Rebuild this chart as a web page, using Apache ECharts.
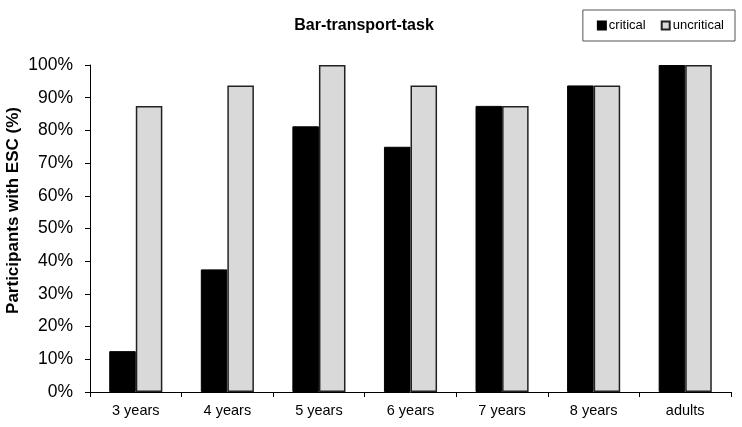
<!DOCTYPE html>
<html><head><meta charset="utf-8">
<script src="https://cdn.jsdelivr.net/npm/echarts@6/dist/echarts.min.js"></script>
<style>html,body{margin:0;padding:0;background:#fff}#c{width:742px;height:427px}</style>
</head><body><div id="c"></div>
<script>
var categories = ['3 years','4 years','5 years','6 years','7 years','8 years','adults'];
var critical = [12.5, 37.5, 81.25, 75, 87.5, 93.75, 100];
var uncritical = [87.5, 93.75, 100, 93.75, 87.5, 93.75, 100];
var chart = echarts.init(document.getElementById('c'));
var font = 'Liberation Sans, Arial, sans-serif';
chart.setOption({
  animation: false,
  title: {text: 'Bar-transport-task', left: 359, top: 13, textAlign: 'center',
    textStyle: {fontFamily: font, fontSize: 16, fontWeight: 'bold', color: '#000'}},
  legend: {right: 7, top: 10, padding: [9, 11, 9, 14], itemGap: 15,
    borderColor: '#555', borderWidth: 1, itemWidth: 8, itemHeight: 8,
    textStyle: {fontFamily: font, fontSize: 13, color: '#000', padding: [0,0,0,-2]},
    data: [{name:'critical', icon:'rect'}, {name:'uncritical', icon:'rect'}]},
  grid: {left: 90, right: 11, top: 65, bottom: 35, containLabel: false, outerBoundsMode: 'none'},
  xAxis: {type: 'category', data: categories,
    axisLine: {lineStyle: {color: '#000', width: 1}},
    axisTick: {show: true, length: 5, alignWithLabel: false, lineStyle: {color:'#000'}},
    axisLabel: {fontFamily: font, fontSize: 14.5, color: '#000', margin: 11}},
  yAxis: {type: 'value', min: 0, max: 100, interval: 10,
    axisLine: {show: true, lineStyle: {color: '#000', width: 1}},
    axisTick: {show: true, length: 5, lineStyle: {color:'#000'}},
    splitLine: {show: false},
    axisLabel: {fontFamily: font, fontSize: 17.5, color: '#000', margin: 17, formatter: '{value}%'},
    name: 'Participants with ESC (%)', nameLocation: 'middle', nameGap: 68, nameMoveOverlap: false,
    nameTextStyle: {fontFamily: font, fontSize: 17, fontWeight: 'bold', color: '#000', padding: [0,0,0,36]}},
  series: [
    {name: 'critical', type: 'bar', data: critical, barGap: '0%', barCategoryGap: '42%',
     itemStyle: {color: '#000', borderColor: '#000', borderWidth: 1}},
    {name: 'uncritical', type: 'bar', data: uncritical,
     itemStyle: {color: '#d9d9d9', borderColor: '#222', borderWidth: 1.5}}
  ]
});
</script></body></html>
